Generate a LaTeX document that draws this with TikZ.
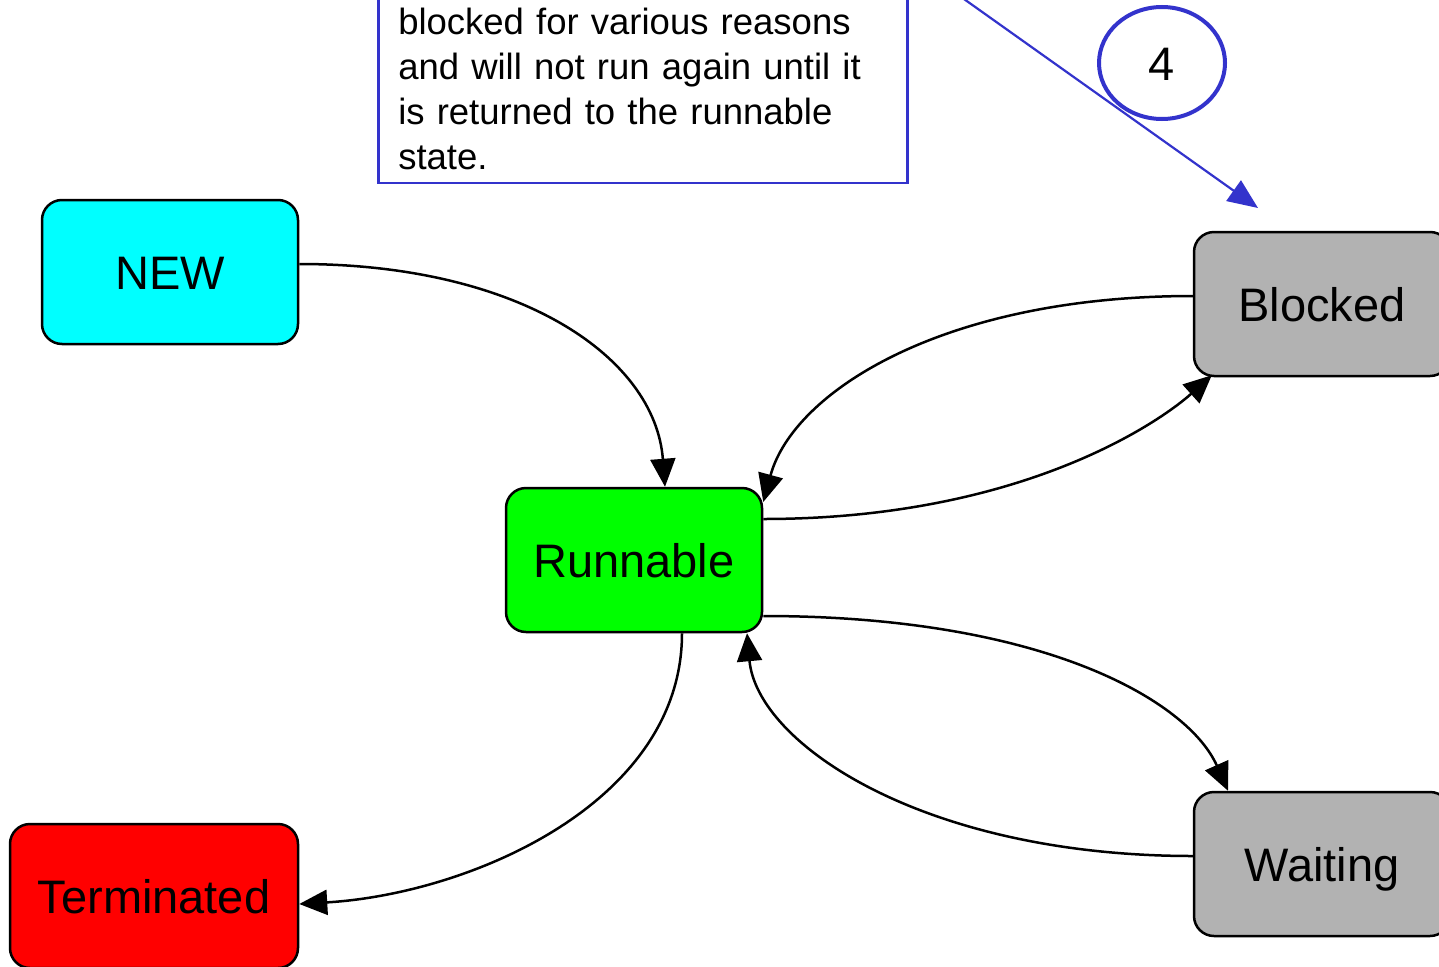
\documentclass[tikz,border=0pt]{standalone}
\usepackage{fontspec}
\setmainfont{Liberation Sans}
\usetikzlibrary{arrows.meta,shapes.geometric}
\definecolor{stgray}{HTML}{B2B2B2}
\definecolor{stcyan}{HTML}{00FFFF}
\definecolor{stgreen}{HTML}{00FF00}
\definecolor{stred}{HTML}{FF0000}
\definecolor{callblue}{HTML}{3333CC}
\begin{document}
\begin{tikzpicture}[x=1pt,y=-1pt,
  state/.style={draw=black,line width=2.5pt,rounded corners=20pt,minimum width=256pt,minimum height=144pt,inner sep=0pt,text height=34pt,text depth=0pt,font=\fontsize{47}{56}\selectfont},
  flow/.style={draw=black,line width=2.5pt,-{Triangle[length=28pt,width=25pt]}},
  callout/.style={draw=callblue,line width=2.5pt,fill=white,align=left,anchor=south west,inner xsep=20pt,inner ysep=13pt,text width=489pt,font=\fontsize{36.5}{45}\selectfont},
  calllink/.style={draw=callblue,line width=2.2pt,-{Triangle[length=30pt,width=25pt]}}
]
\useasboundingbox (0,0) rectangle (1439,966);
\clip (0,0) rectangle (1439,966);
\fill[white] (0,0) rectangle (1439,966);

\node[state,fill=stcyan] (new) at (170,272) {NEW};
\node[state,fill=stgreen] (run) at (634,560) {Runnable};
\node[state,fill=stgray] (blk) at (1322,304) {Blocked};
\node[state,fill=stgray] (wait) at (1322,864) {Waiting};
\node[state,fill=stred,minimum width=288pt] (term) at (154,896) {Terminated};

\node[callout] (note) at (377,184) {blocked for various reasons\\and will not run again until it\\is returned to the runnable\\state.};

\node[draw=callblue,line width=4pt,ellipse,minimum width=126pt,minimum height=112pt,inner sep=0pt,text height=34pt,text depth=0pt,font=\fontsize{47}{56}\selectfont] (four) at (1162,63) {4};

\coordinate (linkstart) at (895,-50);
\coordinate (linkend) at (1258,208);
\draw[calllink] (linkstart) -- (linkend);

\draw[flow] ([yshift=8pt]new.east) .. controls +(220,0) and +(-10,-130) .. ([xshift=31pt]run.north);
\draw[flow] ([yshift=8pt]blk.west) .. controls +(-250,0) and +(30,-110) .. ([yshift=58pt]run.east);
\draw[flow] ([yshift=41pt]run.east) .. controls +(260,0) and +(-50,45) .. ([xshift=19pt,yshift=2pt]blk.south west);
\draw[flow] ([yshift=-56pt]run.east) .. controls +(280,0) and +(-40,-90) .. ([xshift=-94pt]wait.north);
\draw[flow] ([yshift=8pt]wait.west) .. controls +(-270,0) and +(10,110) .. ([xshift=113pt]run.south);
\draw[flow] ([xshift=48pt]run.south) .. controls +(0,170) and +(170,-10) .. ([yshift=-8pt]term.east);
\end{tikzpicture}
\end{document}
